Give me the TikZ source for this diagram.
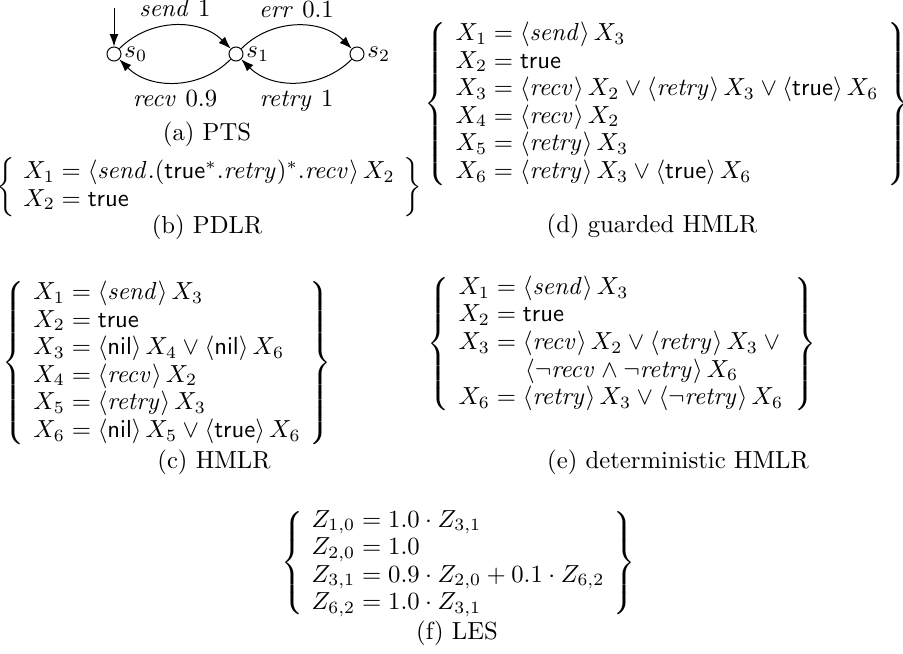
\documentclass[tikz,border=0pt]{standalone}
\usepackage{amsmath,amssymb,amsfonts}
\usepackage{xcolor}
\usetikzlibrary{arrows.meta}

\newcommand{\act}[1]{\mathit{#1}}
\newcommand{\tru}{\mathsf{true}}
\newcommand{\nil}{\mathsf{nil}}
\renewcommand{\arraystretch}{0.93}
\setlength{\arraycolsep}{3.5pt}

\begin{document}
\begin{tikzpicture}[>={Latex[length=5pt,width=3.6pt]},x=0.405pt,y=-0.405pt,
    state/.style={circle,draw,inner sep=0pt,minimum size=5.7pt},
    eqs/.style={inner sep=0pt},
    subcap/.style={inner sep=0pt}]
          \useasboundingbox (0,0) rectangle (903,654);
          % (a) PTS
          \node[state,label={[inner sep=1pt]right:$s_0$}] (s0) at (114,54) {};
          \node[state,label={[inner sep=1pt]right:$s_1$}] (s1) at (236,54) {};
          \node[state,label={[inner sep=1pt]right:$s_2$}] (s2) at (357,54) {};
          \coordinate (init) at (114,8);
          \draw[->] (init) -- (s0);
          \draw[->] (s0) to[bend left=45] node[above] {$\act{send}\ 1$} (s1);
          \draw[->] (s1) to[bend left=45] node[above] {$\act{err}\ 0.1$} (s2);
          \draw[->] (s1) to[bend left=45] node[below] {$\act{recv}\ 0.9$} (s0);
          \draw[->] (s2) to[bend left=45] node[below] {$\act{retry}\ 1$} (s1);
          \node[subcap] (capa) at (207,134) {(a) PTS};
          % (b) PDLR
          \node[eqs] (pdlr) at (209,187) {$\left\{\begin{array}{l}
              X_1 = \langle \act{send}.(\tru^*.\act{retry})^*.\act{recv}\rangle\, X_2\\
              X_2 = \tru
            \end{array}\right\}$};
          \node[subcap] (capb) at (207,227) {(b) PDLR};
          % (d) guarded HMLR
          \node[eqs] (ghmlr) at (667,104) {$\left\{\begin{array}{l}
              X_1 = \langle \act{send}\rangle\, X_3\\
              X_2 = \tru\\
              X_3 = \langle \act{recv}\rangle\, X_2 \vee \langle \act{retry}\rangle\, X_3 \vee \langle \tru\rangle\, X_6\\
              X_4 = \langle \act{recv}\rangle\, X_2\\
              X_5 = \langle \act{retry}\rangle\, X_3\\
              X_6 = \langle \act{retry}\rangle\, X_3 \vee \langle \tru\rangle\, X_6
            \end{array}\right\}$};
          \node[subcap] (capd) at (652,226) {(d) guarded HMLR};
          % (c) HMLR
          \node[eqs] (hmlr) at (167,363) {$\left\{\begin{array}{l}
              X_1 = \langle \act{send}\rangle\, X_3\\
              X_2 = \tru\\
              X_3 = \langle \nil\rangle\, X_4 \vee \langle \nil\rangle\, X_6\\
              X_4 = \langle \act{recv}\rangle\, X_2\\
              X_5 = \langle \act{retry}\rangle\, X_3\\
              X_6 = \langle \nil\rangle\, X_5 \vee \langle \tru\rangle\, X_6
            \end{array}\right\}$};
          \node[subcap] (capc) at (214,462) {(c) HMLR};
          % (e) deterministic HMLR
          \node[eqs] (dhmlr) at (622,344) {$\left\{\begin{array}{l}
              X_1 = \langle \act{send}\rangle\, X_3\\
              X_2 = \tru\\
              X_3 = \langle \act{recv}\rangle\, X_2 \vee \langle \act{retry}\rangle\, X_3 \vee{}\\
              \hspace{2.7em}\langle \neg\act{recv} \wedge \neg\act{retry}\rangle\, X_6\\
              X_6 = \langle \act{retry}\rangle\, X_3 \vee \langle \neg\act{retry}\rangle\, X_6
            \end{array}\right\}$};
          \node[subcap] (cape) at (678,462) {(e) deterministic HMLR};
          % (f) LES
          \node[eqs] (les) at (458,563) {$\left\{\begin{array}{l}
              Z_{1,0} = 1.0 \cdot Z_{3,1}\\
              Z_{2,0} = 1.0\\
              Z_{3,1} = 0.9 \cdot Z_{2,0} + 0.1 \cdot Z_{6,2}\\
              Z_{6,2} = 1.0 \cdot Z_{3,1}
            \end{array}\right\}$};
          \node[subcap] (capf) at (457,633) {(f) LES};
        \end{tikzpicture}
\end{document}
